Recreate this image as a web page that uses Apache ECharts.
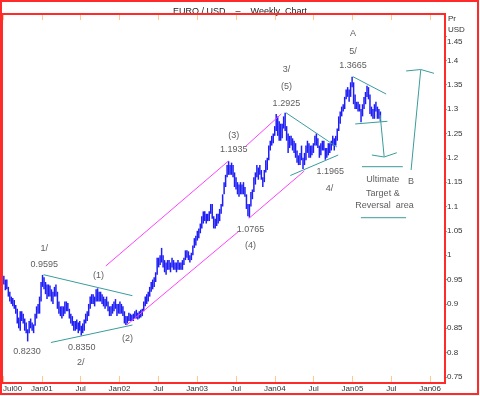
<!DOCTYPE html>
<html><head><meta charset="utf-8">
<script src="https://cdn.jsdelivr.net/npm/echarts@6/dist/echarts.min.js"></script>
<style>html,body{margin:0;padding:0;background:#fff}#c{width:480px;height:396px}</style>
</head><body><div id="c"></div>
<script>
// ---- DATA ----
const firstWeek = [2000, 6, 5]; // week of Jul 3 2000 (midweek), JS month index
const weekLow = [
 // 2000 Jul-Dec
 0.940,0.928,0.930,0.915,0.905,0.900,0.895,0.890,0.880,0.860,0.850,0.845,0.865,0.860,0.845,0.840,0.823,0.840,0.850,0.845,0.840,0.855,0.870,0.880,0.880,0.905,
 // 2001
 0.935,0.930,0.920,0.910,0.915,0.915,0.905,0.900,0.915,0.915,0.890,0.880,0.875,0.870,0.875,0.880,0.885,0.885,0.870,0.860,0.855,0.845,0.845,0.848,0.840,0.845,
 0.835,0.840,0.845,0.860,0.865,0.875,0.890,0.900,0.900,0.895,0.905,0.905,0.905,0.905,0.900,0.895,0.890,0.895,0.885,0.875,0.875,0.880,0.885,0.890,0.875,0.880,0.880,
 // 2002
 0.880,0.875,0.860,0.857,0.860,0.865,0.865,0.865,0.865,0.870,0.870,0.868,0.870,0.872,0.875,0.885,0.895,0.900,0.905,0.915,0.925,0.930,0.935,0.945,0.960,
 0.975,0.980,0.985,0.975,0.965,0.960,0.970,0.970,0.965,0.975,0.970,0.970,0.965,0.970,0.970,0.970,0.970,0.980,0.990,0.995,0.990,0.985,0.990,1.000,1.015,1.020,1.030,
 // 2003
 1.035,1.045,1.055,1.065,1.070,1.065,1.070,1.070,1.085,1.075,1.055,1.055,1.060,1.065,1.070,1.085,1.100,1.125,1.140,1.160,1.165,1.165,1.165,1.160,1.140,1.135,
 1.125,1.120,1.125,1.125,1.125,1.120,1.095,1.080,1.077,1.100,1.115,1.130,1.145,1.160,1.155,1.165,1.155,1.140,1.150,1.170,1.175,1.195,1.215,1.225,1.230,1.245,
 // 2004
 1.255,1.245,1.235,1.235,1.240,1.260,1.255,1.235,1.210,1.220,1.225,1.215,1.210,1.200,1.190,1.185,1.185,1.195,1.177,1.185,1.195,1.210,1.200,1.200,1.205,1.210,
 1.225,1.225,1.220,1.200,1.205,1.215,1.215,1.196,1.200,1.205,1.210,1.215,1.225,1.215,1.225,1.235,1.255,1.270,1.285,1.295,1.300,1.320,1.325,1.315,1.325,1.345,
 // 2005 Jan-May
 1.310,1.300,1.300,1.295,1.295,1.273,1.285,1.300,1.310,1.325,1.320,1.290,1.285,1.280,1.280,1.295,1.280,1.280,1.275
];
const weekHigh = [
 // 2000 Jul-Dec
 0.958,0.950,0.950,0.935,0.925,0.915,0.912,0.908,0.898,0.890,0.872,0.885,0.885,0.880,0.870,0.862,0.848,0.865,0.870,0.862,0.858,0.880,0.895,0.900,0.915,0.945,
 // 2001
 0.9595,0.955,0.945,0.940,0.940,0.938,0.930,0.925,0.935,0.940,0.925,0.905,0.895,0.895,0.895,0.905,0.905,0.902,0.890,0.880,0.875,0.865,0.865,0.868,0.862,0.865,
 0.855,0.860,0.868,0.880,0.885,0.900,0.915,0.920,0.920,0.915,0.930,0.932,0.925,0.925,0.920,0.915,0.910,0.915,0.905,0.895,0.895,0.900,0.905,0.910,0.900,0.900,0.905,
 // 2002
 0.900,0.895,0.885,0.875,0.875,0.882,0.880,0.878,0.880,0.885,0.888,0.882,0.885,0.888,0.890,0.905,0.915,0.920,0.925,0.935,0.945,0.950,0.955,0.965,0.995,
 0.995,1.000,1.015,1.000,0.990,0.985,0.990,0.990,0.985,0.995,0.990,0.985,0.985,0.990,0.985,0.985,0.990,0.995,1.010,1.010,1.008,1.000,1.005,1.020,1.035,1.040,1.050,
 // 2003
 1.055,1.065,1.080,1.090,1.090,1.085,1.085,1.090,1.105,1.105,1.080,1.075,1.085,1.085,1.095,1.105,1.125,1.150,1.165,1.185,1.193,1.185,1.190,1.185,1.170,1.160,
 1.150,1.145,1.150,1.145,1.150,1.140,1.125,1.105,1.105,1.130,1.135,1.160,1.170,1.185,1.180,1.185,1.175,1.160,1.175,1.195,1.200,1.225,1.235,1.245,1.250,1.265,
 // 2004
 1.290,1.285,1.275,1.270,1.270,1.285,1.2925,1.265,1.250,1.245,1.245,1.240,1.235,1.230,1.215,1.205,1.210,1.225,1.200,1.210,1.225,1.235,1.230,1.225,1.225,1.230,
 1.245,1.250,1.240,1.225,1.230,1.235,1.235,1.220,1.220,1.230,1.230,1.235,1.245,1.240,1.245,1.260,1.285,1.295,1.305,1.310,1.325,1.340,1.345,1.340,1.355,1.3665,
 // 2005 Jan-May
 1.355,1.330,1.315,1.315,1.310,1.300,1.310,1.325,1.335,1.348,1.345,1.330,1.305,1.300,1.310,1.315,1.305,1.300,1.295
];
// x axis: months since 1 Jul 2000, tick every 6 months
const xTickLabels = ['Jul00','Jan01','Jul','Jan02','Jul','Jan03','Jul','Jan04','Jul','Jan05','Jul','Jan06'];
// annotations (x = months since Jul 2000, y = price)
const noteText = ['1/','0.9595','(1)','0.8230','0.8350','2/','(2)','(3)','1.1935','1.0765','(4)','3/','(5)','1.2925','A','5/','1.3665','1.1965','4/','Ultimate','Target &','Reversal  area','B'];
const noteX = [6.37,6.37,14.75,3.70,12.18,12.03,19.23,35.66,35.66,38.24,38.24,43.79,43.79,43.79,54.07,54.07,54.07,50.57,50.46,58.70,58.70,58.94,63.06];
const noteY = [1.0128,0.9813,0.9573,0.8013,0.811,0.7802,0.828,1.2462,1.216,1.0532,1.0189,1.3819,1.3459,1.3119,1.4541,1.4178,1.3884,1.1714,1.1374,1.1558,1.1271,1.101,1.1523];
const tealLines = [
 [[6.27,0.960],[20.0,0.9169]],
 [[7.40,0.8208],[20.0,0.8567]],
 [[43.71,1.2926],[51.6,1.2221]],
 [[44.4,1.1636],[51.8,1.2057]],
 [[54.07,1.3665],[59.2,1.3309]],
 [[54.42,1.2694],[59.4,1.2749]],
 [[58.28,1.2878],[58.9,1.2022]],
 [[57.0,1.2057],[58.9,1.2016],[60.85,1.2104]],
 [[63.06,1.1749],[64.55,1.3802]],
 [[62.29,1.3782],[64.55,1.3812],[66.6,1.3734]],
 [[55.46,1.1817],[61.78,1.1817]],
 [[55.3,1.077],[62.29,1.077]]
];
const magentaLines = [
 [[15.88,0.9779],[34.84,1.1934]],
 [[37.47,1.2232],[43.0,1.2899]],
 [[19.12,0.8567],[36.39,1.0487]],
 [[37.97,1.0754],[46.56,1.1729]]
];

// ---- BUILD ----
const FONT = '"Liberation Sans Narrow","Liberation Sans",Arial,sans-serif';
const t0 = Date.UTC(2000, 6, 1);
const MONTH = 30.4375 * 86400000;
const bars = weekLow.map((lo, i) => {
  const t = Date.UTC(firstWeek[0], firstWeek[1], firstWeek[2] + 7 * i);
  return [(t - t0) / MONTH, lo, weekHigh[i]];
});

const series = [{
  type: 'custom',
  data: bars,
  renderItem: function (params, api) {
    const x = api.value(0), lo = api.value(1), hi = api.value(2);
    const a = api.coord([x, hi]), b = api.coord([x, lo]);
    return { type: 'rect', shape: { x: a[0] - 0.75, y: a[1], width: 1.5, height: Math.max(1, b[1] - a[1]) },
      style: { fill: '#1f1ff5' } };
  },
  encode: { x: 0, y: [1, 2] },
  z: 2
}];
tealLines.forEach(l => series.push({ type: 'line', data: l, symbol: 'none', silent: true, clip: false,
  lineStyle: { color: '#3a9c9c', width: 1 }, z: 3 }));
magentaLines.forEach(l => series.push({ type: 'line', data: l, symbol: 'none', silent: true, clip: false,
  lineStyle: { color: '#ff40ff', width: 1 }, z: 3 }));
series.push({
  type: 'scatter', clip: false, silent: true, symbolSize: 1, itemStyle: { color: 'rgba(0,0,0,0)' },
  data: noteText.map((t, i) => ({ value: [noteX[i], noteY[i]], label: { formatter: t } })),
  label: { show: true, position: 'inside', color: '#333', fontSize: 9, fontFamily: FONT }, z: 4
});

const chart = echarts.init(document.getElementById('c'), null, { renderer: 'canvas' });
chart.setOption({
  animation: false,
  title: { text: 'EURO / USD    –    Weekly  Chart', left: 'center', top: 2,
    textStyle: { fontSize: 9, fontWeight: 'normal', color: '#222', fontFamily: FONT } },
  grid: { left: 2, right: 35, top: 36, bottom: 19 },
  xAxis: [{
    type: 'value', min: 0, max: 68.3, interval: 6, position: 'bottom', offset: 6,
    axisLine: { show: false, onZero: false }, splitLine: { show: false },
    axisTick: { inside: true, length: 7, lineStyle: { color: '#ffc890' } },
    axisLabel: { fontSize: 8, color: '#333', margin: 2, fontFamily: FONT, showMaxLabel: false,
      alignMinLabel: 'left',
      formatter: v => { const k = Math.round(v / 6); return Math.abs(v - k * 6) < 1e-6 ? (xTickLabels[k] || '') : ''; } }
  }, {
    type: 'value', min: 0, max: 68.3, interval: 6, position: 'top', offset: 22,
    axisLine: { show: false, onZero: false }, splitLine: { show: false },
    axisTick: { inside: true, length: 6, lineStyle: { color: '#ffc890' } },
    axisLabel: { show: false }
  }],
  yAxis: {
    type: 'value', position: 'right', min: 0.75, max: 1.45, interval: 0.05,
    axisLine: { show: false, onZero: false }, splitLine: { show: false },
    axisTick: { show: true, length: 2, lineStyle: { color: '#999' } },
    axisLabel: { fontSize: 8, color: '#333', margin: 2, fontFamily: FONT,
      formatter: v => { const s = String(Math.round(v * 100) / 100); return v > 1.445 ? '{t|' + s + '}' : s; },
      rich: { t: { padding: [11, 0, 0, 0], fontSize: 8, color: '#333', fontFamily: FONT } } }
  },
  graphic: [
    { type: 'rect', shape: { x: 1, y: 1, width: 477, height: 393 }, style: { fill: null, stroke: '#ff2a2a', lineWidth: 2 }, z: 10 },
    { type: 'rect', shape: { x: 2, y: 14, width: 443, height: 369 }, style: { fill: null, stroke: '#ff2a2a', lineWidth: 2 }, z: 10 },
    { type: 'text', left: 448, top: 15, style: { text: 'Pr', fontSize: 8, fill: '#333', fontFamily: FONT } },
    { type: 'text', left: 448, top: 26, style: { text: 'USD', fontSize: 8, fill: '#333', fontFamily: FONT } }
  ],
  series: series
});
</script></body></html>
